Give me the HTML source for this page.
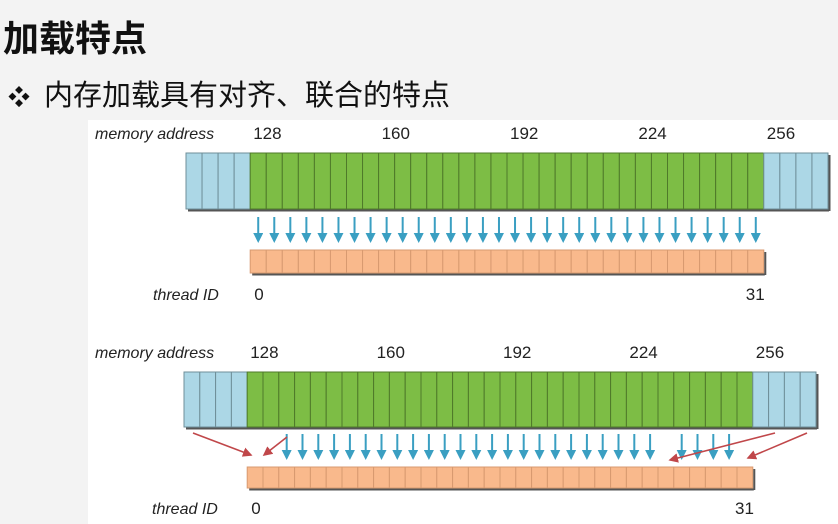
<!DOCTYPE html>
<html><head><meta charset="utf-8"><style>
body{margin:0;width:838px;height:524px;background:#f3f3f3;overflow:hidden;font-family:"Liberation Sans","Noto Sans CJK SC",sans-serif;position:relative}
.t{position:absolute;white-space:nowrap;color:#111}
</style></head><body>
<div class="t" style="left:3px;top:10px;font-size:36px;font-weight:bold;font-family:'Noto Sans CJK SC',sans-serif">加载特点</div>
<div class="t" style="left:8px;top:80px;font-size:22px">❖</div>
<div class="t" style="left:44px;top:72px;font-size:29px;font-family:'Noto Sans CJK SC',sans-serif">内存加载具有对齐、联合的特点</div>
<svg width="838" height="524" style="position:absolute;left:0;top:0" id="svg">
<rect x="88" y="120" width="750" height="404" fill="#ffffff"/>
<defs>
<marker id="ab" markerWidth="5" markerHeight="5" refX="4" refY="2.5" orient="auto"><path d="M0,0 L5,2.5 L0,5 z" fill="#3a9fc2"/></marker>
<marker id="ar" markerWidth="6" markerHeight="6" refX="5" refY="3" orient="auto"><path d="M0,0 L6,3 L0,6 z" fill="#c0474a"/></marker>
</defs>
</svg>
<script>
const addrTicks=["128","160","192","224","256"];
const topArrows=[...Array(32).keys()];
const botArrows=[2,3,4,5,6,7,8,9,10,11,12,13,14,15,16,17,18,19,20,21,22,23,24,25,27,28,29,30];
const svg=document.getElementById('svg');
const NS='http://www.w3.org/2000/svg';
function el(t,a,txt){const e=document.createElementNS(NS,t);for(const k in a)e.setAttribute(k,a[k]);if(txt!==undefined)e.textContent=txt;svg.appendChild(e);return e;}
function diagram(d){
 const cw=d.cw;
 for(let i=0;i<40;i++){
  const blue=i<4||i>=36;
  const r=el('rect',{x:d.x+i*cw,y:d.my,width:cw,height:d.mh,fill:blue?'#acd7e6':'#7dbd45',stroke:blue?'#6f8f99':'#4f7a2a','stroke-width':1});
  
  
 }
 el('line',{x1:d.x+2,y1:d.my+d.mh+1.5,x2:d.x+40*cw+1,y2:d.my+d.mh+1.5,stroke:'#555','stroke-width':2});
 el('line',{x1:d.x+40*cw+1.5,y1:d.my+2,x2:d.x+40*cw+1.5,y2:d.my+d.mh+2,stroke:'#555','stroke-width':2});
 const tx=d.x+4*cw;
 for(let i=0;i<32;i++){
  const r=el('rect',{x:tx+i*cw,y:d.ty,width:cw,height:d.th,fill:'#f9b98c',stroke:'#d89a70','stroke-width':1});
  
  
 }
 el('line',{x1:tx+2,y1:d.ty+d.th+1.5,x2:tx+32*cw+1,y2:d.ty+d.th+1.5,stroke:'#555','stroke-width':2});
 el('line',{x1:tx+32*cw+1.5,y1:d.ty+2,x2:tx+32*cw+1.5,y2:d.ty+d.th+2,stroke:'#555','stroke-width':2});
 d.arrows.forEach(i=>{const cx=tx+(i+0.5)*cw;
  const a=el('line',{x1:cx,y1:d.ay1,x2:cx,y2:d.ay2,stroke:'#3a9fc2','stroke-width':2,'marker-end':'url(#ab)'});
  
  });
 (d.red||[]).forEach(r=>{const a=el('line',{x1:r[0],y1:r[1],x2:r[2],y2:r[3],stroke:'#c0474a','stroke-width':1.6,'marker-end':'url(#ar)'});
  
  });
 const s='font-family:"Liberation Sans",sans-serif;font-size:17px;fill:#222';
 el('text',{x:95,y:d.ly,style:s+';font-style:italic;font-size:16px'},'memory address');
 addrTicks.forEach((t,k)=>el('text',{x:tx+k*8*cw+3,y:d.ly,style:s},t));
 el('text',{x:d.tidx,y:d.tly,style:s+';font-style:italic;font-size:16px'},'thread ID');
 el('text',{x:tx+4,y:d.tly,style:s},'0');
 el('text',{x:tx+31*cw-2,y:d.tly,style:s},'31');
}
diagram({x:186,cw:16.05,my:153,mh:56,ty:250,th:23,ay1:217,ay2:241,arrows:topArrows,ly:139,tly:300,tidx:153});
diagram({x:184,cw:15.8,my:372,mh:55,ty:467,th:21,ay1:434,ay2:458,arrows:botArrows,ly:358,tly:514,tidx:152,
 red:[[193,433,251,455],[287,437,264,455],[775,433,670,460],[807,433,748,458]]});
</script>
</body></html>
